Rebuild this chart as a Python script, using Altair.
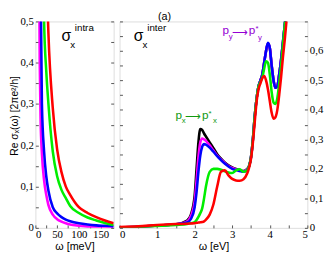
import altair as alt
import pandas as pd

# ---------------- left panel: intraband (omega in meV) ----------------
omega_meV = [2, 4, 6, 8, 10, 12, 15, 20, 25, 30, 40, 50, 60, 70, 80, 100, 120, 140, 160, 180]
intra_magenta = [3.0, 1.8, 1.1, 0.7, 0.4, 0.26, 0.18, 0.115, 0.08, 0.055, 0.032, 0.021, 0.015, 0.011, 0.008, 0.005, 0.003, 0.002, 0.0015, 0.001]
intra_blue = [3.5, 2.8, 2.0, 1.5, 0.9, 0.6, 0.3, 0.185, 0.125, 0.09, 0.05, 0.035, 0.026, 0.02, 0.016, 0.011, 0.008, 0.006, 0.005, 0.004]
intra_green = [3.5, 3.2, 2.8, 2.3, 1.8, 1.3, 0.85, 0.5, 0.38, 0.3, 0.185, 0.125, 0.092, 0.072, 0.053, 0.036, 0.025, 0.018, 0.012, 0.007]
intra_red = [3.5, 3.2, 2.9, 2.6, 2.2, 1.9, 1.5, 0.95, 0.65, 0.47, 0.29, 0.19, 0.135, 0.1, 0.08, 0.05, 0.036, 0.026, 0.018, 0.011]

# ---------------- right panel: interband (omega in eV) ----------------
omega_eV = [0, 0.5, 1.0, 1.5, 1.8, 1.9, 2.0, 2.05, 2.1, 2.15, 2.2, 2.25, 2.3, 2.4, 2.5, 2.6, 2.7, 2.8, 2.9, 3.0,
            3.1, 3.2, 3.3, 3.4, 3.45, 3.5, 3.55, 3.6, 3.65, 3.7, 3.75, 3.8, 3.85, 3.9, 3.95, 4.0, 4.05, 4.1, 4.15,
            4.2, 4.25, 4.3, 4.35, 4.4, 4.5]
inter_black = [0.002, 0.004, 0.008, 0.012, 0.025, 0.045, 0.11, 0.2, 0.29, 0.335, 0.332, 0.32, 0.31, 0.29, 0.27, 0.25,
               0.235, 0.222, 0.212, 0.205, 0.2, 0.196, 0.193, 0.2, 0.21, 0.24, 0.3, 0.38, 0.44, 0.48, 0.5, 0.52, 0.56,
               0.6, 0.625, 0.61, 0.55, 0.5, 0.475, 0.48, 0.52, 0.57, 0.63, 0.69, 0.82]
inter_magenta = [0.002, 0.004, 0.008, 0.012, 0.022, 0.04, 0.09, 0.16, 0.24, 0.29, 0.303, 0.3, 0.295, 0.28, 0.262, 0.245,
                 0.232, 0.22, 0.21, 0.203, 0.198, 0.195, 0.192, 0.198, 0.21, 0.24, 0.3, 0.38, 0.44, 0.48, 0.5, 0.52,
                 0.56, 0.6, 0.625, 0.61, 0.55, 0.5, 0.475, 0.48, 0.52, 0.57, 0.63, 0.69, 0.82]
inter_blue = [0.002, 0.004, 0.008, 0.012, 0.018, 0.03, 0.07, 0.12, 0.19, 0.245, 0.275, 0.284, 0.282, 0.272, 0.258, 0.243,
              0.23, 0.218, 0.208, 0.2, 0.196, 0.193, 0.19, 0.196, 0.21, 0.24, 0.3, 0.38, 0.44, 0.48, 0.5, 0.52, 0.56,
              0.6, 0.628, 0.61, 0.55, 0.5, 0.475, 0.48, 0.52, 0.57, 0.63, 0.69, 0.82]
inter_green = [0.001, 0.003, 0.006, 0.01, 0.013, 0.016, 0.02, 0.027, 0.037, 0.05, 0.066, 0.1, 0.14, 0.19, 0.2, 0.2,
               0.197, 0.192, 0.188, 0.186, 0.195, 0.199, 0.19, 0.196, 0.21, 0.24, 0.3, 0.38, 0.44, 0.48, 0.495, 0.51,
               0.54, 0.565, 0.56, 0.52, 0.46, 0.425, 0.42, 0.44, 0.49, 0.55, 0.62, 0.69, 0.82]
inter_red = [0.003, 0.005, 0.01, 0.013, 0.014, 0.015, 0.016, 0.017, 0.018, 0.019, 0.02, 0.022, 0.028, 0.045, 0.08, 0.14,
             0.19, 0.195, 0.178, 0.166, 0.161, 0.16, 0.165, 0.185, 0.205, 0.235, 0.29, 0.36, 0.43, 0.47, 0.49, 0.508,
             0.515, 0.5, 0.47, 0.43, 0.39, 0.37, 0.375, 0.4, 0.45, 0.51, 0.58, 0.64, 0.78]

series_names = ["black", "magenta", "blue", "green", "red"]
series_colors = ["#000000", "#ff00ff", "#0000ff", "#00ee00", "#ff0000"]

# tick values
left_x_ticks = [0, 25, 50, 75, 100, 125, 150, 175]
right_x_ticks = [0, 0.5, 1, 1.5, 2, 2.5, 3, 3.5, 4, 4.5, 5]
left_y_ticks = [0, 0.05, 0.1, 0.15, 0.2, 0.25, 0.3, 0.35, 0.4, 0.45, 0.5]
right_y_ticks = [0, 0.05, 0.1, 0.15, 0.2, 0.25, 0.3, 0.35, 0.4, 0.45, 0.5, 0.55, 0.6, 0.65, 0.7]

# annotations (data coordinates)
left_ann_t = ["σ", "x", "intra"]
left_ann_x = [70.9, 85.5, 112.5]
left_ann_y = [0.4526, 0.436, 0.476]
left_ann_fs = [16, 10, 10]
left_ann_c = ["#000000", "#000000", "#000000"]

right_ann_t = ["σ", "x", "inter",
               "p", "y", "⟶", "p", "*", "y",
               "p", "x", "⟶", "p", "*", "x"]
right_ann_x = [0.508, 0.677, 0.99,
               2.826, 2.956, 3.216, 3.529, 3.659, 3.737,
               1.576, 1.706, 1.966, 2.279, 2.409, 2.539]
right_ann_y = [0.634, 0.610, 0.667,
               0.657, 0.640, 0.650, 0.657, 0.667, 0.637,
               0.368, 0.355, 0.365, 0.368, 0.378, 0.355]
right_ann_fs = [16, 10, 10,
                12, 8, 11, 12, 8, 8,
                12, 8, 11, 12, 8, 8]
purple = "#9400d3"
dgreen = "#119911"
right_ann_c = ["#000000"] * 3 + [purple] * 6 + [dgreen] * 6

panel_label = "(a)"
panel_label_x = 1.198

SANS = "Liberation Sans"
SERIF = "Liberation Serif"
TICK_COLOR = "#555555"


def long_df(xs, ys_list, names):
    rows = []
    for name, ys in zip(names, ys_list):
        for xv, yv in zip(xs, ys):
            rows.append({"x": xv, "y": yv, "series": name})
    return pd.DataFrame(rows)


df_left = long_df(omega_meV, [intra_magenta, intra_blue, intra_green, intra_red], series_names[1:])
df_right = long_df(omega_eV, [inter_black, inter_magenta, inter_blue, inter_green, inter_red], series_names)

color_enc = alt.Color("series:N", scale=alt.Scale(domain=series_names, range=series_colors), legend=None)

yfmt = ("abs(datum.value*10 - round(datum.value*10)) > 0.01 || datum.value > 0.65 ? '' : "
        "(datum.value == 0 ? '0' : replace(format(datum.value, '.1f'), '.', ','))")

common_axis = dict(offset=-3, tickSize=3, tickColor=TICK_COLOR, domain=False, grid=False,
                   labelFont=SERIF, labelFontSize=11, labelColor="#000000",
                   titleFont=SANS, titleFontSize=11, titleFontWeight="normal", titleColor="#000000")

PH = 211


def panel(df, xdom, ydom, xticks, yticks, xlab_expr, xtitle, main_orient, ytitle, ann, width, with_label=False):
    xs = alt.Scale(domain=xdom, nice=False, zero=False)
    ys = alt.Scale(domain=ydom, nice=False, zero=False)
    x_axis = alt.Axis(orient="bottom", values=xticks, labelExpr=xlab_expr, title=xtitle,
                      labelPadding=1, titlePadding=1, **common_axis)
    main_kwargs = dict(orient=main_orient, values=yticks, labelExpr=yfmt, labelPadding=2, **common_axis)
    if ytitle:
        main_kwargs.update(title=ytitle, titlePadding=1, titleY=96)
        main_kwargs["titleFontSize"] = 10.5
    else:
        main_kwargs.update(title=None)
    y_axis = alt.Axis(**main_kwargs)
    mirror_axis = alt.Axis(orient="right" if main_orient == "left" else "left", values=yticks, labels=False,
                           title=None, **{k: v for k, v in common_axis.items() if not k.startswith("label")})

    lines = alt.Chart(df).mark_line(clip=True, strokeWidth=2.6, interpolate="monotone").encode(
        x=alt.X("x:Q", scale=xs, axis=x_axis),
        y=alt.Y("y:Q", scale=ys, axis=y_axis),
        color=color_enc,
    )
    mirror = alt.Chart(pd.DataFrame({"v": yticks})).mark_point(opacity=0).encode(
        y=alt.Y("v:Q", scale=ys, axis=mirror_axis)
    )
    t, ax, ay, fs, cc = ann
    ann_df = pd.DataFrame({"t": t, "x": ax, "y": ay, "fs": fs, "c": cc})
    texts = alt.Chart(ann_df).mark_text(align="center", baseline="alphabetic", font=SANS).encode(
        x=alt.X("x:Q", scale=xs, axis=x_axis),
        y=alt.Y("y:Q", scale=ys, axis=None),
        text="t:N",
        size=alt.Size("fs:Q", scale=None, legend=None),
        color=alt.Color("c:N", scale=None, legend=None),
    )
    layers = [lines, mirror, texts]
    if with_label:
        lab = alt.Chart(pd.DataFrame({"t": [panel_label], "x": [panel_label_x]})).mark_text(
            align="center", baseline="alphabetic", font=SANS, fontSize=11, color="#000000"
        ).encode(x=alt.X("x:Q", scale=xs, axis=x_axis), y=alt.value(-1), text="t:N")
        layers.append(lab)
    return alt.layer(*layers).resolve_axis(y="independent").properties(width=width, height=PH)


left = panel(df_left, [0, 180], [0, 0.5], left_x_ticks, left_y_ticks,
             "datum.value % 50 == 0 ? format(datum.value, 'd') : ''", "ω [meV]", "left",
             "Re σₓ(ω) [2πe²/h]",
             (left_ann_t, left_ann_x, left_ann_y, left_ann_fs, left_ann_c), 80)
right = panel(df_right, [0, 5], [0, 0.7], right_x_ticks, right_y_ticks,
              "datum.value % 1 == 0 ? format(datum.value, 'd') : ''", "ω [eV]", "right",
              None,
              (right_ann_t, right_ann_x, right_ann_y, right_ann_fs, right_ann_c), 192, with_label=True)

chart = alt.hconcat(left, right, spacing=6, bounds="flush").properties(
    padding={"left": 0, "right": 0, "top": 0, "bottom": 0}
).configure_view(stroke="#555555", strokeWidth=1).configure(background="white")

chart.save("out.html", embed_options={"renderer": "svg", "actions": False})
